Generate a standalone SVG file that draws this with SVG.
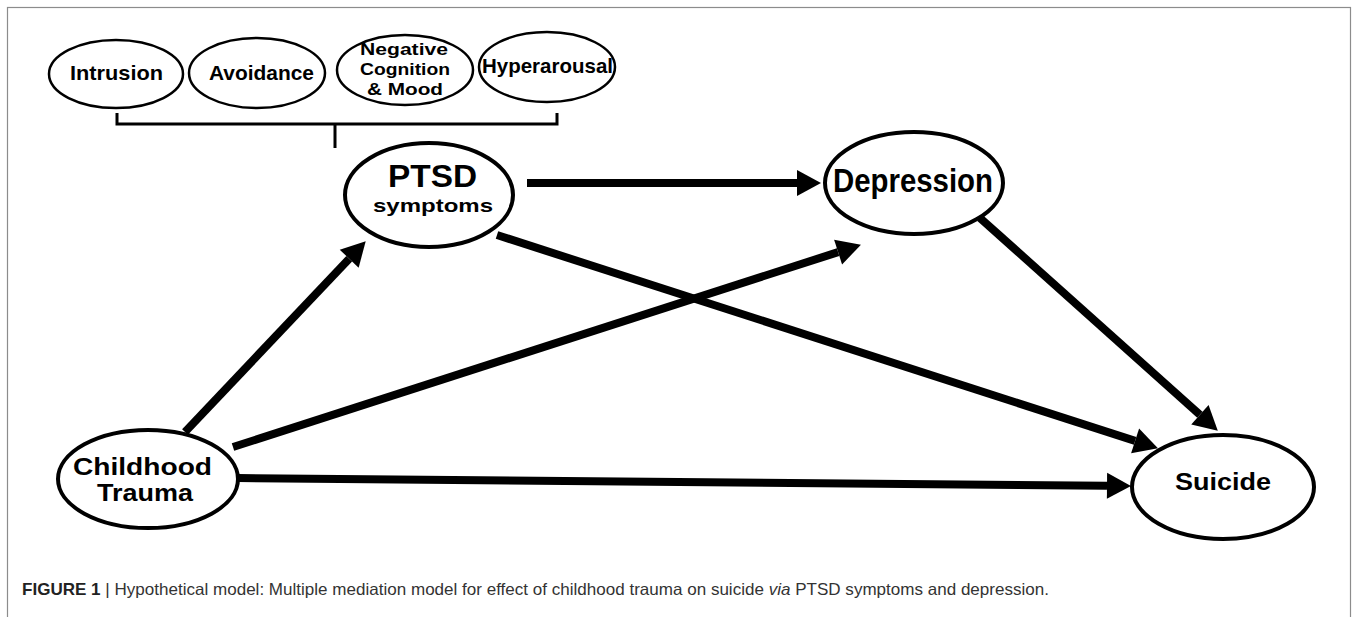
<svg xmlns="http://www.w3.org/2000/svg" width="1358" height="617" viewBox="0 0 1358 617">
<style>
.node ellipse{fill:#fff;stroke:#000;stroke-width:4}
.sub ellipse{fill:#fff;stroke:#000;stroke-width:2.5}
.lbl{font-family:"Liberation Sans",Arial,sans-serif;font-weight:bold;fill:#000;text-anchor:middle}
.conn line{stroke:#000;stroke-width:8;fill:none}
.cap{font-family:"Liberation Sans",Arial,sans-serif;font-size:16.5px;fill:#333}
</style>
<defs>
<marker id="ah" markerUnits="userSpaceOnUse" markerWidth="24" markerHeight="26" refX="0" refY="13" orient="auto" overflow="visible">
<path d="M0,0 L24,13 L0,26 z" fill="#000"/>
</marker>
</defs>
<rect width="1358" height="617" fill="#fff"/>
<rect x="7.5" y="7.5" width="1343" height="640" fill="none" stroke="#8c8c8c" stroke-width="1.2"/>

<g id="intrusion" class="sub">
<ellipse cx="116" cy="74" rx="67" ry="34"/>
<text class="lbl" x="116.5" y="80" font-size="21" textLength="93" lengthAdjust="spacingAndGlyphs">Intrusion</text>
</g>
<g id="avoidance" class="sub">
<ellipse cx="257" cy="73" rx="68" ry="35"/>
<text class="lbl" x="261.5" y="80" font-size="21" textLength="105" lengthAdjust="spacingAndGlyphs">Avoidance</text>
</g>
<g id="negative" class="sub">
<ellipse cx="405" cy="70" rx="68" ry="35"/>
<text class="lbl" font-size="16.5"><tspan x="404" y="55" textLength="88" lengthAdjust="spacingAndGlyphs">Negative</tspan><tspan x="405" y="75" textLength="90" lengthAdjust="spacingAndGlyphs">Cognition</tspan><tspan x="405" y="95" textLength="76" lengthAdjust="spacingAndGlyphs">&amp; Mood</tspan></text>
</g>
<g id="hyperarousal" class="sub">
<ellipse cx="547" cy="67" rx="68" ry="35"/>
<text class="lbl" x="547.5" y="73" font-size="21" textLength="131" lengthAdjust="spacingAndGlyphs">Hyperarousal</text>
</g>

<g id="bracket">
<path d="M117,113 V124 H557 V113 M335,124 V148" fill="none" stroke="#000" stroke-width="3"/>
</g>

<g id="ptsd" class="node">
<ellipse cx="429" cy="195" rx="84" ry="52"/>
<text class="lbl"><tspan x="432.5" y="187" font-size="32" textLength="89" lengthAdjust="spacingAndGlyphs">PTSD</tspan><tspan x="433" y="211.5" font-size="19" textLength="120" lengthAdjust="spacingAndGlyphs">symptoms</tspan></text>
</g>
<g id="depression" class="node">
<ellipse cx="914" cy="183" rx="89" ry="51"/>
<text class="lbl" x="913" y="192" font-size="33" textLength="160" lengthAdjust="spacingAndGlyphs">Depression</text>
</g>
<g id="childhood" class="node">
<ellipse cx="148" cy="479" rx="90" ry="49"/>
<text class="lbl" font-size="23"><tspan x="142.5" y="475" textLength="139" lengthAdjust="spacingAndGlyphs">Childhood</tspan><tspan x="145" y="501" textLength="96" lengthAdjust="spacingAndGlyphs">Trauma</tspan></text>
</g>
<g id="suicide" class="node">
<ellipse cx="1223" cy="487" rx="91" ry="52"/>
<text class="lbl" x="1223" y="490" font-size="24" textLength="96" lengthAdjust="spacingAndGlyphs">Suicide</text>
</g>

<g id="connectors" class="conn">
<line x1="527" y1="183" x2="797" y2="183" marker-end="url(#ah)"/>
<line x1="185" y1="432" x2="349.2" y2="258.7" marker-end="url(#ah)"/>
<line x1="233" y1="447" x2="838.1" y2="252.1" marker-end="url(#ah)"/>
<line x1="497" y1="235" x2="1135.1" y2="440.9" marker-end="url(#ah)"/>
<line x1="980" y1="218" x2="1199.9" y2="414.7" marker-end="url(#ah)"/>
<line x1="238" y1="478" x2="1107" y2="485.8" marker-end="url(#ah)"/>
</g>

<text class="cap" x="22" y="595" textLength="1027" lengthAdjust="spacingAndGlyphs"><tspan font-weight="bold" fill="#222">FIGURE 1</tspan> | Hypothetical model: Multiple mediation model for effect of childhood trauma on suicide <tspan font-style="italic">via</tspan> PTSD symptoms and depression.</text>
</svg>
